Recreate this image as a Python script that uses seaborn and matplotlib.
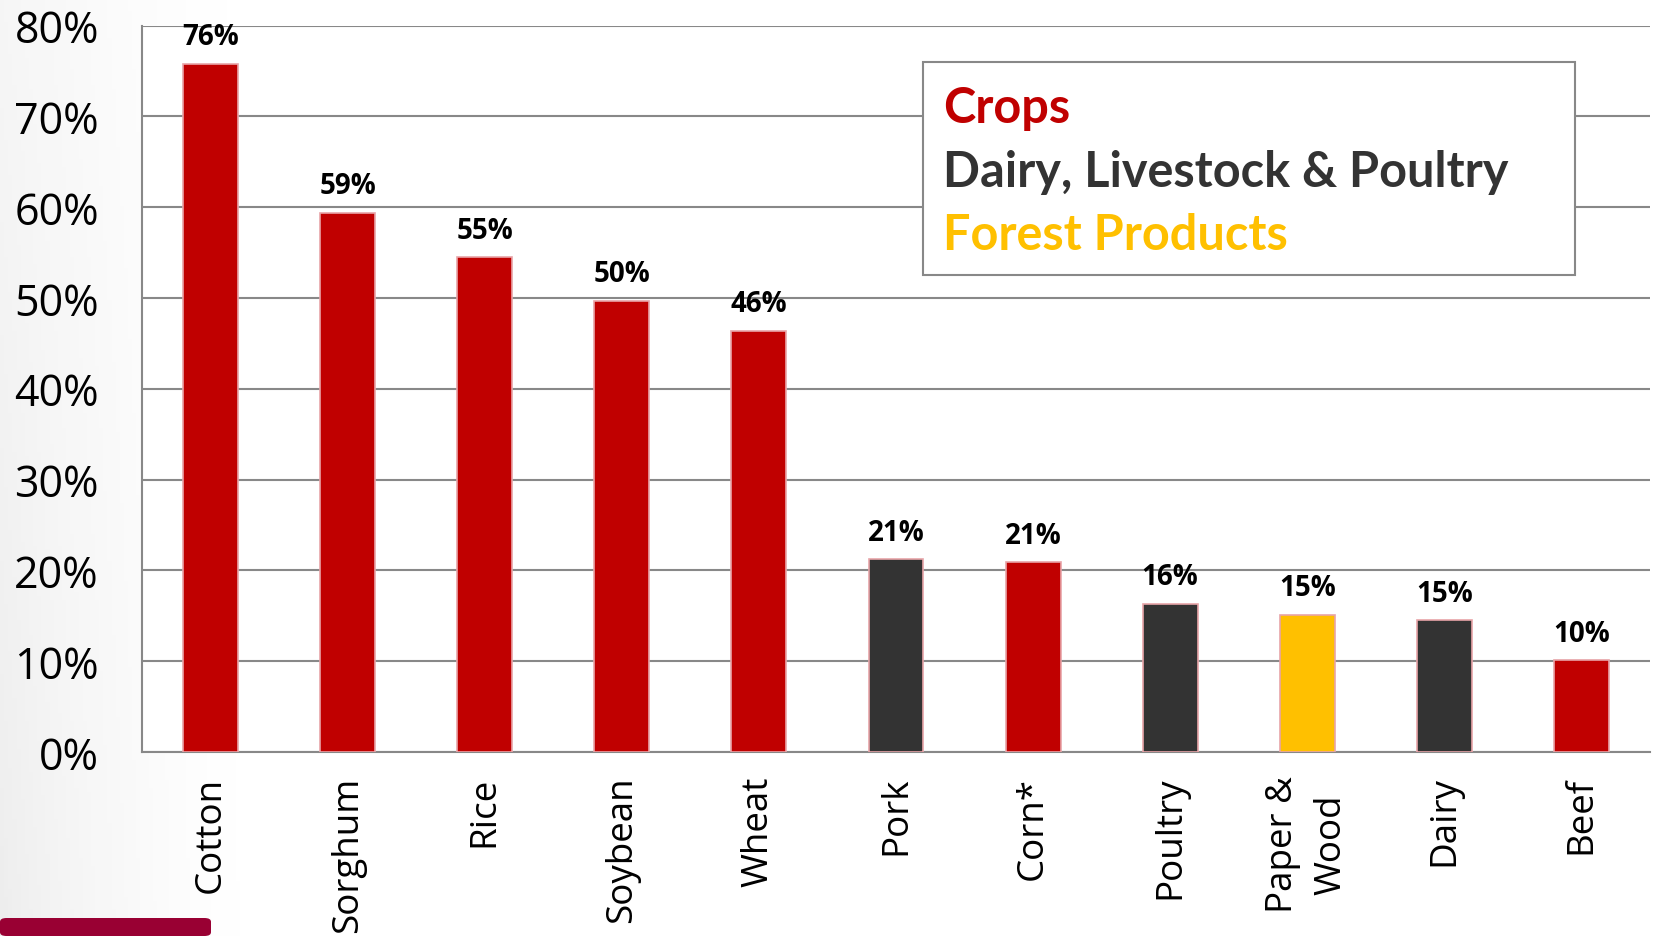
import matplotlib
matplotlib.use("Agg")
import matplotlib.pyplot as plt
import numpy as np
import pandas as pd
import seaborn as sns
from matplotlib.patches import Rectangle, FancyBboxPatch

# Data
categories = ["Cotton", "Sorghum", "Rice", "Soybean", "Wheat", "Pork", "Corn*",
              "Poultry", "Paper &\nWood", "Dairy", "Beef"]
values = [75.8, 59.4, 54.5, 49.7, 46.4, 21.2, 20.9, 16.3, 15.1, 14.5, 10.1]
labels = ["76%", "59%", "55%", "50%", "46%", "21%", "21%", "16%", "15%", "15%", "10%"]
groups = ["Crops", "Crops", "Crops", "Crops", "Crops", "Dairy, Livestock & Poultry",
          "Crops", "Dairy, Livestock & Poultry", "Forest Products",
          "Dairy, Livestock & Poultry", "Crops"]
group_names = ["Crops", "Dairy, Livestock & Poultry", "Forest Products"]
group_colors = ["#C00000", "#333333", "#FFC000"]

df = pd.DataFrame({"category": categories, "value": values, "group": groups})
color_map = dict(zip(group_names, group_colors))
bar_colors = [color_map[g] for g in groups]

sns.set_style("white")
plt.rcParams["font.family"] = ["Open Sans", "DejaVu Sans"]

fig = plt.figure(figsize=(16.53, 9.37), dpi=100)

# soft grey shading at the left edge of the slide
bg = fig.add_axes([0, 0, 1, 1], zorder=-5)
gx = np.linspace(0, 1, 400)
gy = np.linspace(0, 1, 240)
X, Y = np.meshgrid(gx, gy)
shade = np.clip(1 - X / 0.16, 0, 1) ** 1.6 * (0.55 + 0.45 * Y)
bg.imshow(shade, cmap="Greys", vmin=0, vmax=7, aspect="auto",
          extent=[0, 1, 0, 1], origin="upper")
bg.axis("off")

ax = fig.add_axes([142 / 1653, 184 / 937, 1508 / 1653, 726.5 / 937])

sns.barplot(data=df, x="category", y="value", hue="category", palette=bar_colors,
            saturation=1, legend=False, width=0.4, edgecolor="#e8a4a8",
            linewidth=1.2, ax=ax, zorder=3)

for i, (v, lab) in enumerate(zip(values, labels)):
    ax.annotate(lab, (i, v), xytext=(0, 9), textcoords="offset points",
                ha="center", va="bottom", fontsize=20, fontweight="bold",
                color="black")

ax.set_xlim(-0.5, len(categories) - 0.5)
ax.set_ylim(0, 80)
ax.set_yticks(range(0, 81, 10))
ax.set_yticklabels([f"{t}%" for t in range(0, 81, 10)], fontsize=31,
                   color="black")
ax.yaxis.grid(True, color="#888888", linewidth=1.5, zorder=0)
ax.set_axisbelow(True)
ax.set_xlabel("")
ax.set_ylabel("")

ax.set_xticks(range(len(categories)))
ax.set_xticklabels(categories, rotation=90, fontsize=26.5, va="top", ha="center",
                   linespacing=1.45, color="black")
ax.set_xticks(np.arange(-0.5, len(categories)), minor=True)
ax.tick_params(axis="x", which="major", length=0, pad=17)
ax.tick_params(axis="x", which="minor", length=10, width=1.5, color="#888888",
               direction="out")
ax.tick_params(axis="y", length=11, width=1.5, color="#888888", pad=20,
               direction="out")

for s in ["top", "right"]:
    ax.spines[s].set_visible(False)
for s in ["left", "bottom"]:
    ax.spines[s].set_color("#888888")
    ax.spines[s].set_linewidth(1.5)

# legend drawn as coloured text inside a framed box
ax.add_patch(Rectangle((0.518, 0.657), 0.432, 0.293, transform=ax.transAxes,
                       facecolor="white", edgecolor="#888888", linewidth=1.5,
                       zorder=4))
for name, col, yb in zip(group_names, group_colors, [0.867, 0.779, 0.692]):
    ax.text(0.531, yb, name, transform=ax.transAxes, color=col, fontsize=35,
            fontweight="bold", va="baseline", ha="left", zorder=5,
            family=["Lato", "DejaVu Sans"])

# corner of the slide footer
fig.patches.append(FancyBboxPatch((0, 0), 211 / 1653, 18 / 937,
                                  boxstyle="round,pad=0,rounding_size=0.004",
                                  transform=fig.transFigure,
                                  facecolor="#990033", edgecolor="none"))

fig.savefig("out.png", dpi=100)
